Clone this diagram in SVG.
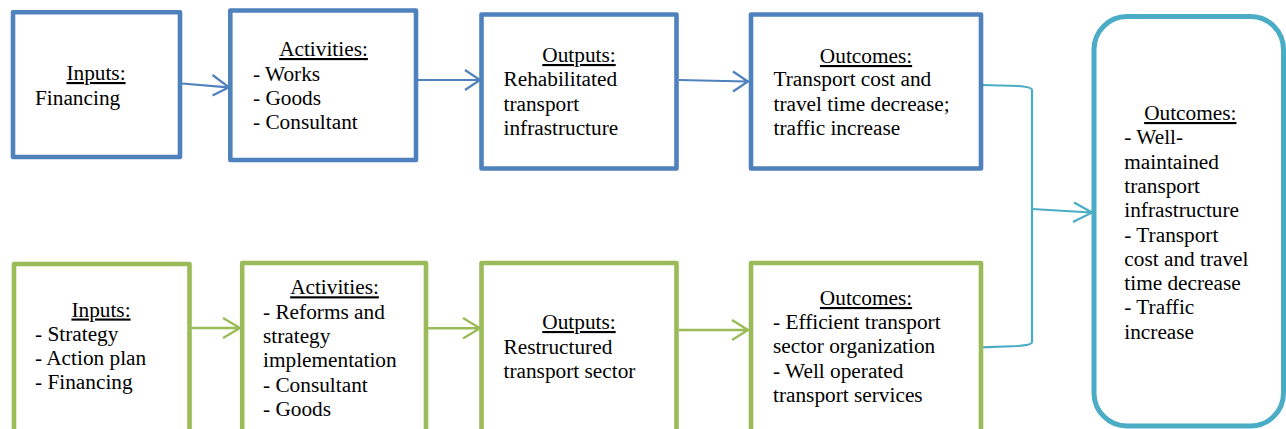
<svg xmlns="http://www.w3.org/2000/svg" width="1286" height="429" viewBox="0 0 1286 429">
<style>
  text { font-family: 'Liberation Serif', Tinos, 'Times New Roman', 'DejaVu Serif', serif; font-size: 21.3px; fill: #000; }
  .u { text-decoration: underline; }
  .c { text-anchor: middle; }
  .blue { fill: #fff; stroke: #4F81BD; stroke-width: 4.6; stroke-linejoin: round; }
  .green { fill: #fff; stroke: #9BBB59; stroke-width: 4.6; stroke-linejoin: round; }
  .teal { fill: #fff; stroke: #4BACC6; stroke-width: 5; }
  .lb { fill: none; stroke: #4F81BD; stroke-width: 2.2; }
  .lg { fill: none; stroke: #9BBB59; stroke-width: 2.4; }
  .lt { fill: none; stroke: #4BACC6; stroke-width: 2.2; }
</style>
<rect width="1286" height="429" fill="#fff"/>
<g id="connectors">
  <path class="lb" d="M182,83.5 L228,87.3 M212.5,75 L229,87.3 L212.5,95.5"/>
  <path class="lb" d="M418,80 L479,80 M465,70 L480,80 L465,90"/>
  <path class="lb" d="M679,80 L747,81.5 M733,71.5 L748,81.5 L733,91.5"/>
  <path class="lg" d="M191,328 L239,328 M223,318 L240,328 L223,338"/>
  <path class="lg" d="M428,328.3 L479,328.3 M463,318 L480,328.3 L463,338.5"/>
  <path class="lg" d="M679,330 L747,330 M732,320 L748,330 L732,340"/>
  <path class="lt" d="M982,85 L1018,86 Q1032,87 1032,90 L1032,342 Q1032,345 1018,346 L982,347.3"/>
  <path class="lt" d="M1032,209 L1091,212.5 M1074,202.5 L1092,212.5 L1073,222"/>
</g>
<g id="n-inputs-top">
  <rect class="blue" x="13" y="12.3" width="167" height="144.7"/>
  <text class="c u" x="96" y="80">Inputs:</text>
  <text x="35" y="105">Financing</text>
</g>
<g id="n-activities-top">
  <rect class="blue" x="230.3" y="10.5" width="185.7" height="149.5"/>
  <text class="c u" x="323.5" y="56">Activities:</text>
  <text x="253" y="80.5">- Works</text>
  <text x="253" y="105">- Goods</text>
  <text x="253" y="129">- Consultant</text>
</g>
<g id="n-outputs-top">
  <rect class="blue" x="481.5" y="14.5" width="195" height="154"/>
  <text class="c u" x="579" y="62">Outputs:</text>
  <text x="503.5" y="86">Rehabilitated</text>
  <text x="503.5" y="110.5">transport</text>
  <text x="503.5" y="135">infrastructure</text>
</g>
<g id="n-outcomes-top">
  <rect class="blue" x="751" y="14.5" width="230" height="154"/>
  <text class="c u" x="866" y="63">Outcomes:</text>
  <text x="773.5" y="86">Transport cost and</text>
  <text x="773.5" y="110.5">travel time decrease;</text>
  <text x="773.5" y="135">traffic increase</text>
</g>
<g id="n-inputs-bottom">
  <rect class="green" x="14" y="264" width="175.5" height="180"/>
  <text class="c u" x="101" y="316.5">Inputs:</text>
  <text x="35" y="340.5">- Strategy</text>
  <text x="35" y="365">- Action plan</text>
  <text x="35" y="389">- Financing</text>
</g>
<g id="n-activities-bottom">
  <rect class="green" x="242.2" y="263" width="183.8" height="180"/>
  <text class="c u" x="334.5" y="294.3">Activities:</text>
  <text x="263" y="318.6">- Reforms and</text>
  <text x="263" y="343">strategy</text>
  <text x="263" y="367.3">implementation</text>
  <text x="263" y="391.6">- Consultant</text>
  <text x="263" y="416">- Goods</text>
</g>
<g id="n-outputs-bottom">
  <rect class="green" x="481.5" y="263" width="195" height="180"/>
  <text class="c u" x="579" y="329">Outputs:</text>
  <text x="503.5" y="353.5">Restructured</text>
  <text x="503.5" y="378">transport sector</text>
</g>
<g id="n-outcomes-bottom">
  <rect class="green" x="751" y="263" width="230" height="180"/>
  <text class="c u" x="866" y="305">Outcomes:</text>
  <text x="773" y="329">- Efficient transport</text>
  <text x="773" y="353.3">sector organization</text>
  <text x="773" y="377.6">- Well operated</text>
  <text x="773" y="402">transport services</text>
</g>
<g id="n-outcomes-final">
  <rect class="teal" x="1094" y="16.5" width="189.5" height="409.5" rx="33" ry="33"/>
  <text class="c u" x="1190.3" y="120">Outcomes:</text>
  <text x="1124.3" y="144.3">- Well-</text>
  <text x="1124.3" y="168.6">maintained</text>
  <text x="1124.3" y="192.9">transport</text>
  <text x="1124.3" y="217.2">infrastructure</text>
  <text x="1124.3" y="241.5">- Transport</text>
  <text x="1124.3" y="265.8">cost and travel</text>
  <text x="1124.3" y="290.1">time decrease</text>
  <text x="1124.3" y="314.4">- Traffic</text>
  <text x="1124.3" y="338.7">increase</text>
</g>
</svg>
